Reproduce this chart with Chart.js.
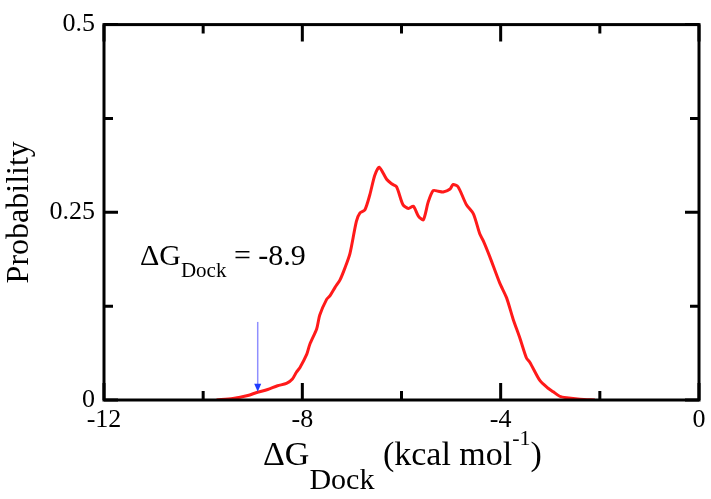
<!DOCTYPE html>
<html>
<head>
<meta charset="utf-8">
<script src="https://cdn.jsdelivr.net/npm/chart.js@4/dist/chart.umd.min.js"></script>
<style>
  html, body { margin: 0; padding: 0; background: #fff; }
</style>
</head>
<body>
<canvas id="chart" width="711" height="499"></canvas>
<script>
// binding energy (kcal/mol)
let dockEnergy = [
  -9.73, -9.40, -9.10, -8.92, -8.70, -8.50, -8.32, -8.20, -8.12, -8.05,
  -7.91, -7.85, -7.71, -7.65, -7.51, -7.44, -7.34, -7.24, -7.14, -7.04,
  -6.91, -6.84, -6.74, -6.64, -6.54, -6.45, -6.30, -6.20, -6.10, -5.97,
  -5.86, -5.76, -5.66, -5.56, -5.46, -5.36, -5.26, -5.16, -5.02, -4.96,
  -4.86, -4.69, -4.55, -4.42, -4.35, -4.22, -4.02, -3.88, -3.75, -3.61,
  -3.48, -3.41, -3.21, -3.05, -2.94, -2.81, -2.67, -2.40, -2.10
]
let probability = [
  0.000, 0.002, 0.006, 0.010, 0.014, 0.019, 0.022, 0.028, 0.037, 0.043,
  0.061, 0.074, 0.095, 0.113, 0.134, 0.139, 0.150, 0.160, 0.176, 0.195,
  0.238, 0.249, 0.253, 0.273, 0.299, 0.310, 0.294, 0.288, 0.284, 0.260,
  0.255, 0.258, 0.245, 0.240, 0.264, 0.279, 0.278, 0.277, 0.281, 0.287,
  0.284, 0.260, 0.248, 0.221, 0.212, 0.191, 0.156, 0.136, 0.108, 0.082,
  0.056, 0.050, 0.026, 0.016, 0.011, 0.005, 0.003, 0.001, 0.000
]

let xTickValues = [-12, -10, -8, -6, -4, -2, 0]
let xTickLabels = ["-12", "", "-8", "", "-4", "", "0"]
let yTickValues = [0, 0.125, 0.25, 0.375, 0.5]
let yTickLabels = ["0", "", "0.25", "", "0.5"]

// the blue arrow pointing at the docked value
let arrowX = -8.9
let arrowFrom = 0.104
let arrowTo = 0.011

let points = []
dockEnergy.forEach(function(x, i){
  points.push({ x: x, y: probability[i] })
})

const serif = '"Liberation Serif", "Times New Roman", serif'

// frame with inward ticks on all four sides
let framePlugin = {
  id: 'frame',
  afterDatasetsDraw(chart) {
    let ctx = chart.ctx
    let a = chart.chartArea
    let xs = chart.scales.x
    let ys = chart.scales.y
    ctx.save()
    ctx.strokeStyle = '#000'
    ctx.lineWidth = 3
    ctx.lineCap = 'butt'
    ctx.strokeRect(a.left, a.top, a.right - a.left, a.bottom - a.top)
    ctx.beginPath()
    xTickValues.forEach(function(v, i){
      let px = xs.getPixelForValue(v)
      let len = xTickLabels[i] ? 17 : 9
      ctx.moveTo(px, a.bottom); ctx.lineTo(px, a.bottom - len)
      ctx.moveTo(px, a.top); ctx.lineTo(px, a.top + len)
    })
    yTickValues.forEach(function(v, i){
      let py = ys.getPixelForValue(v)
      let len = yTickLabels[i] ? 14 : 9
      ctx.moveTo(a.left, py); ctx.lineTo(a.left + len, py)
      ctx.moveTo(a.right, py); ctx.lineTo(a.right - len, py)
    })
    ctx.stroke()

    // arrow
    let ax = xs.getPixelForValue(arrowX)
    let ay0 = ys.getPixelForValue(arrowFrom)
    let ay1 = ys.getPixelForValue(arrowTo)
    ctx.strokeStyle = '#8f8fff'
    ctx.lineWidth = 1.5
    ctx.beginPath()
    ctx.moveTo(ax, ay0); ctx.lineTo(ax, ay1 - 6)
    ctx.stroke()
    ctx.fillStyle = '#1f3cff'
    ctx.beginPath()
    ctx.moveTo(ax - 3.5, ay1 - 8)
    ctx.lineTo(ax + 3.5, ay1 - 8)
    ctx.lineTo(ax, ay1)
    ctx.closePath()
    ctx.fill()
    ctx.restore()
  },
  afterDraw(chart) {
    let ctx = chart.ctx
    ctx.save()
    ctx.fillStyle = '#000'
    ctx.textBaseline = 'alphabetic'
    ctx.textAlign = 'left'

    // x axis title with sub and superscript
    let x = 263
    ctx.font = '34px ' + serif
    ctx.fillText('\u0394G', x, 465); x += ctx.measureText('\u0394G').width
    ctx.font = '30px ' + serif
    ctx.fillText('Dock', x, 489); x += ctx.measureText('Dock').width
    ctx.font = '34px ' + serif
    ctx.fillText(' (kcal mol', x, 465); x += ctx.measureText(' (kcal mol').width
    ctx.font = '22px ' + serif
    ctx.fillText('-1', x, 445); x += ctx.measureText('-1').width
    ctx.font = '34px ' + serif
    ctx.fillText(')', x, 465)

    // annotation
    x = 140
    ctx.font = '30px ' + serif
    ctx.fillText('\u0394G', x, 265); x += ctx.measureText('\u0394G').width
    ctx.font = '21px ' + serif
    ctx.fillText('Dock', x, 277); x += ctx.measureText('Dock').width
    ctx.font = '30px ' + serif
    ctx.fillText(' = -8.9', x, 265)
    ctx.restore()
  }
}

new Chart(document.getElementById("chart"), {
  type: 'line',
  data: {
    datasets: [{
      data: points,
      borderColor: '#ff1a1a',
      borderWidth: 3,
      pointRadius: 0,
      tension: 0.25,
      fill: false
    }]
  },
  options: {
    responsive: false,
    animation: false,
    layout: { padding: { left: 0, right: 12, top: 15, bottom: 0 } },
    plugins: { legend: { display: false }, tooltip: { enabled: false } },
    scales: {
      x: {
        type: 'linear',
        min: -12, max: 0,
        afterFit: function(s){ s.height = 99 },
        afterBuildTicks: function(s){ s.ticks = xTickValues.map(v => ({ value: v })) },
        grid: { display: false, drawTicks: false },
        border: { display: false },
        ticks: {
          padding: 5,
          color: '#000',
          maxRotation: 0,
          autoSkip: false,
          font: { family: serif, size: 26 },
          callback: function(v){ return xTickLabels[xTickValues.indexOf(v)] }
        }
      },
      y: {
        type: 'linear',
        min: 0, max: 0.5,
        afterFit: function(s){ s.width = 104 },
        afterBuildTicks: function(s){ s.ticks = yTickValues.map(v => ({ value: v })) },
        grid: { display: false, drawTicks: false },
        border: { display: false },
        ticks: {
          padding: 9,
          color: '#000',
          autoSkip: false,
          font: { family: serif, size: 26 },
          callback: function(v){ return yTickLabels[yTickValues.indexOf(v)] }
        },
        title: {
          display: true,
          text: 'Probability',
          color: '#000',
          padding: { top: 0, bottom: 0 },
          font: { family: serif, size: 32 }
        }
      }
    }
  },
  plugins: [framePlugin]
});
</script>
</body>
</html>
